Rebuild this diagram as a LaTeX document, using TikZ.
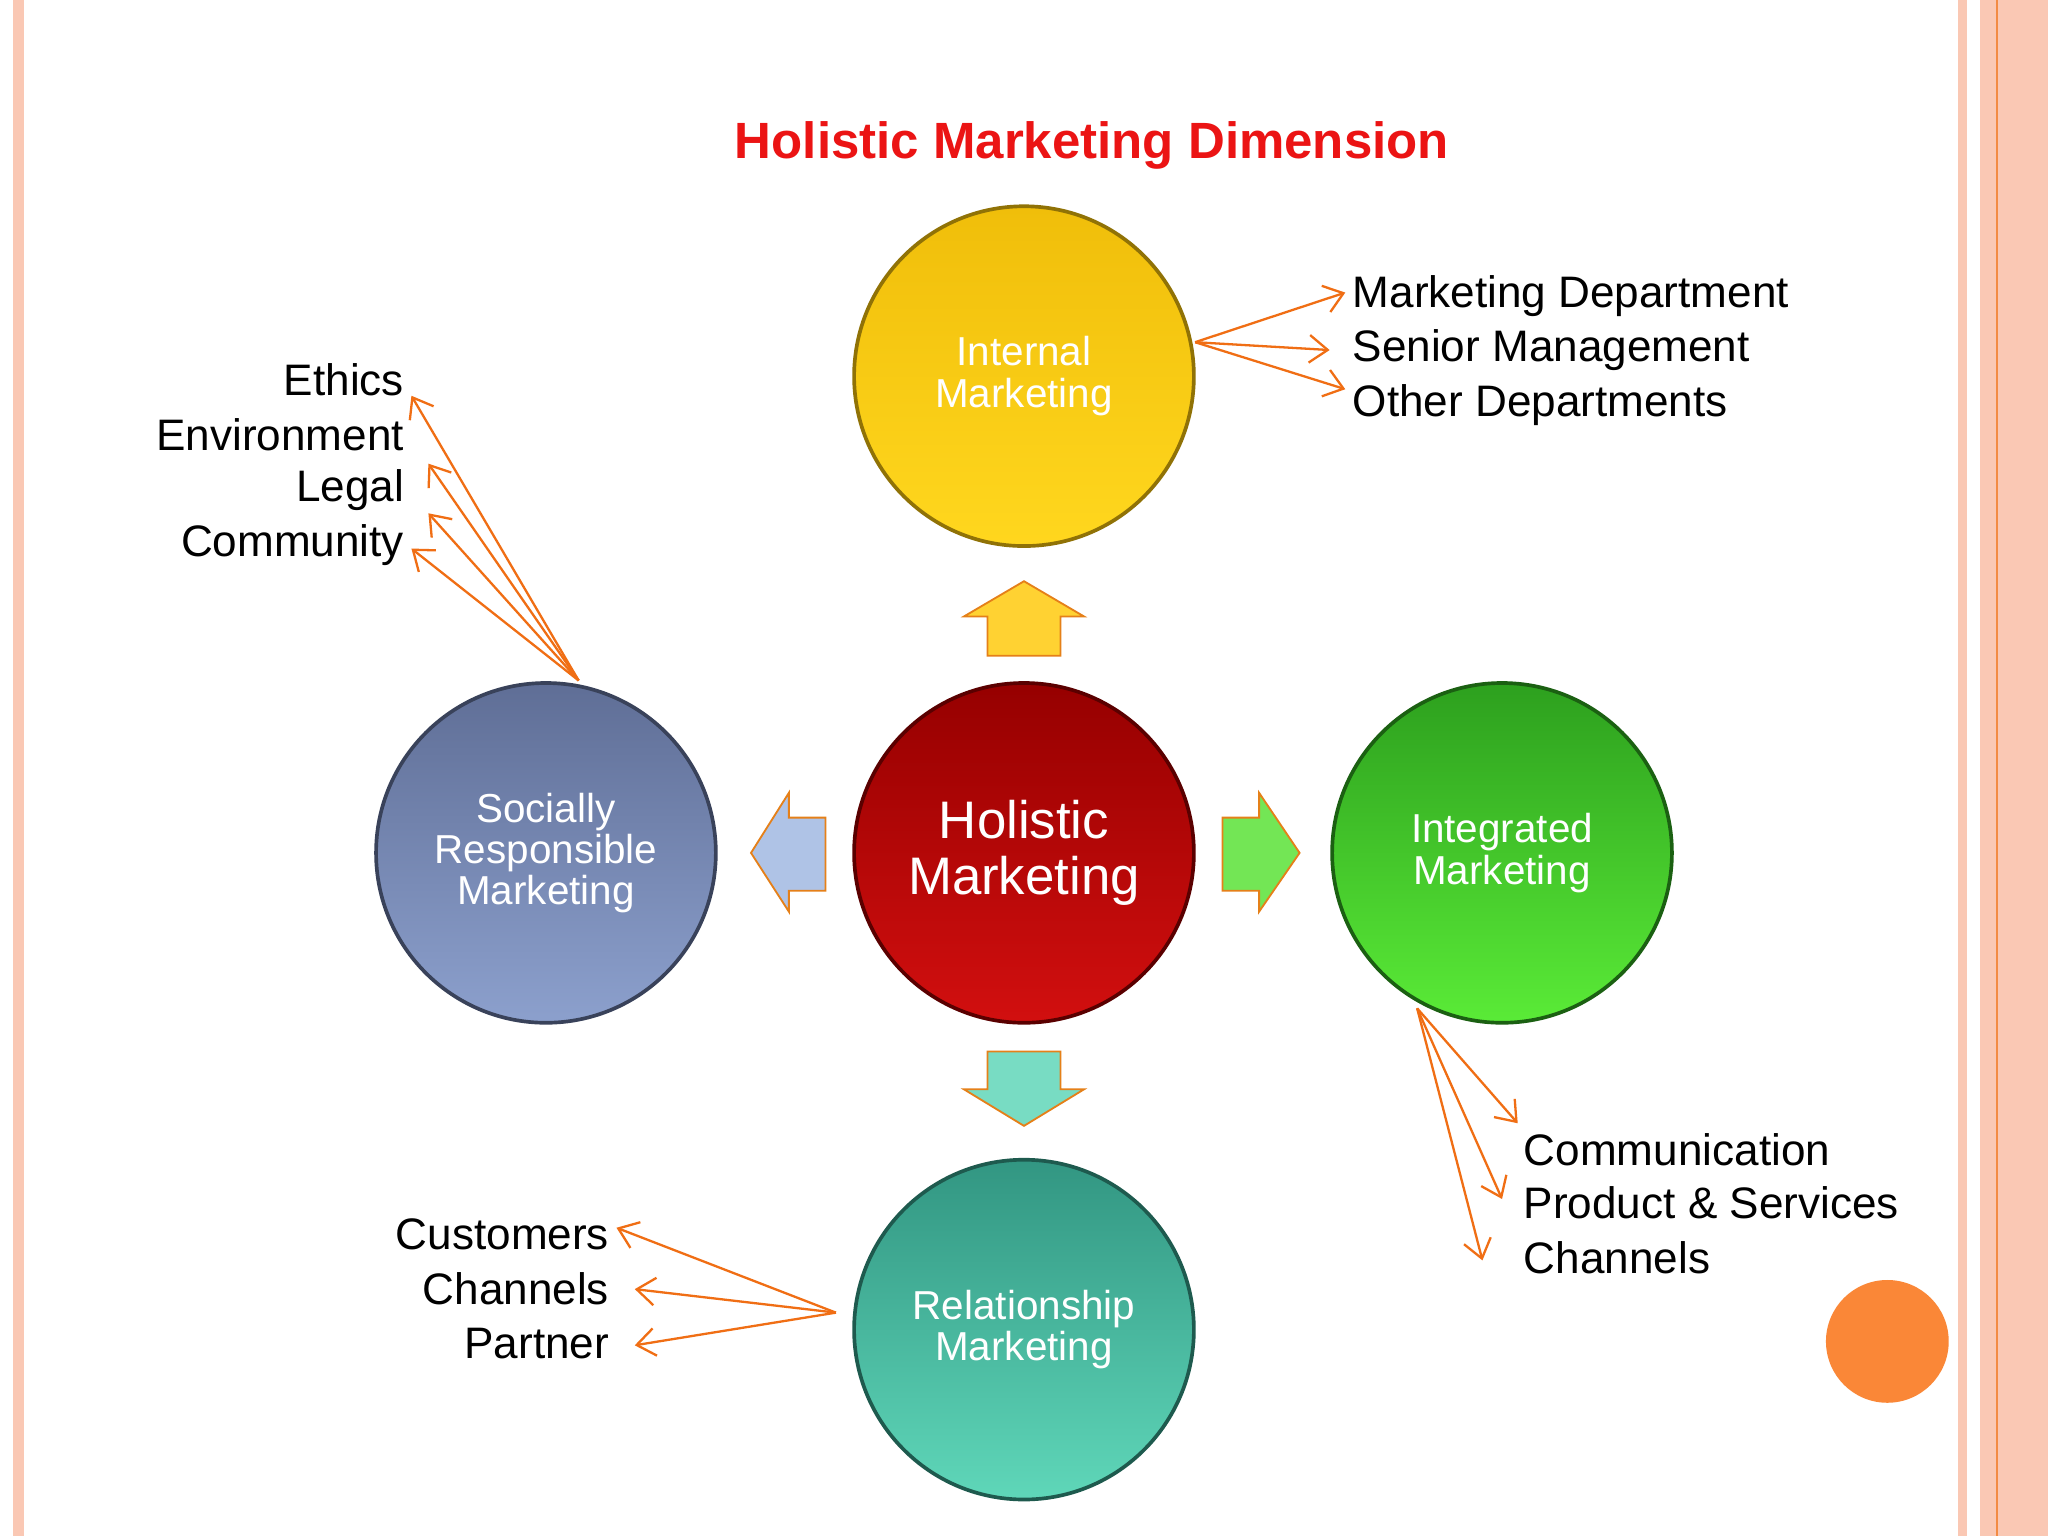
\documentclass[tikz,border=0pt]{standalone}
\usepackage{fontspec}
\setmainfont{Liberation Sans}
\usetikzlibrary{arrows.meta}
\definecolor{orng}{RGB}{240,110,20}
\definecolor{pinkb}{RGB}{250,200,180}
\definecolor{ttl}{RGB}{235,20,20}
\definecolor{cy}{RGB}{240,190,10}
\definecolor{cyb}{RGB}{255,215,30}
\definecolor{cr}{RGB}{150,0,0}
\definecolor{crb}{RGB}{210,15,15}
\definecolor{cb}{RGB}{95,110,150}
\definecolor{cbb}{RGB}{140,160,205}
\definecolor{cg}{RGB}{45,160,30}
\definecolor{cgb}{RGB}{90,235,55}
\definecolor{ct}{RGB}{50,150,130}
\definecolor{ctb}{RGB}{95,215,185}
\definecolor{ay}{RGB}{255,210,50}
\definecolor{ab}{RGB}{175,195,230}
\definecolor{ag}{RGB}{115,230,85}
\definecolor{at}{RGB}{120,220,195}
\definecolor{dot}{RGB}{250,135,55}
\tikzset{
  ball/.style 2 args={circle,minimum size=2.6cm,inner sep=0pt,align=center,text=white,font=\fontsize{8.8}{9}\selectfont,draw=#1!60!black,line width=0.8pt,top color=#1,bottom color=#2},
  lbl/.style={font=\fontsize{9.6}{10}\selectfont,inner sep=0pt},
  con/.style={draw=orng,line width=0.5pt,-{Straight Barb[length=4pt,width=6pt]}},
  blk/.style={draw=orange!60!brown,line width=0.4pt}
}
\begin{document}
\begin{tikzpicture}[x=0.01cm,y=-0.01cm]
\useasboundingbox (0,0) rectangle (1568,1176);
\fill[white] (0,0) rectangle (1568,1176);
\fill[pinkb] (10,0) rectangle (18,1176);
\fill[pinkb] (1499,0) rectangle (1506,1176);
\fill[pinkb] (1516,0) rectangle (1568,1176);
\draw[orng!80,line width=0.6pt] (1529,0) -- (1529,1176);
\node[font=\fontsize{11.1}{12}\selectfont\bfseries,text=ttl] (title) at (836,111) {Holistic Marketing Dimension};
\node[ball={cy}{cyb}] (int) at (784,288) {Internal\\Marketing};
\node[ball={cr}{crb},font=\fontsize{11.5}{12}\selectfont] (hol) at (784,653) {Holistic\\Marketing};
\node[ball={cb}{cbb}] (soc) at (418,653) {Socially\\Responsible\\Marketing};
\node[ball={cg}{cgb}] (itg) at (1150,653) {Integrated\\Marketing};
\node[ball={ct}{ctb}] (rel) at (784,1018) {Relationship\\Marketing};
\filldraw[blk,fill=ay] (738,472) -- (784,445) -- (830,472) -- (812,472) -- (812,502) -- (756,502) -- (756,472) -- cycle;
\filldraw[blk,fill=ab] (575,653) -- (604,607) -- (604,626) -- (632,626) -- (632,682) -- (604,682) -- (604,698) -- cycle;
\filldraw[blk,fill=ag] (995,653) -- (964,607) -- (964,626) -- (936,626) -- (936,682) -- (964,682) -- (964,698) -- cycle;
\filldraw[blk,fill=at] (738,834) -- (784,862) -- (830,834) -- (812,834) -- (812,805) -- (756,805) -- (756,834) -- cycle;
\node[lbl,anchor=west] (t1) at (1035,227) {Marketing Department};
\node[lbl,anchor=west] (t2) at (1035,268) {Senior Management};
\node[lbl,anchor=west] (t3) at (1035,310) {Other Departments};
\node[lbl,anchor=east] (s1) at (310,291) {Ethics};
\node[lbl,anchor=east] (s2) at (310,333) {Environment};
\node[lbl,anchor=east] (s3) at (310,375) {Legal};
\node[lbl,anchor=east] (s4) at (310,417) {Community};
\node[lbl,anchor=west] (g1) at (1166,880) {Communication};
\node[lbl,anchor=west] (g2) at (1166,921) {Product \& Services};
\node[lbl,anchor=west] (g3) at (1166,963) {Channels};
\node[lbl,anchor=east] (r1) at (467,945) {Customers};
\node[lbl,anchor=east] (r2) at (467,987) {Channels};
\node[lbl,anchor=east] (r3) at (467,1029) {Partner};
\coordinate (ia) at (915,262);
\coordinate (sa) at (443,521);
\coordinate (ga) at (1085,772);
\coordinate (ra) at (640,1005);
\coordinate (t1e) at (1030,224); \coordinate (t2e) at (1018,268); \coordinate (t3e) at (1030,298);
\coordinate (s1e) at (315,303); \coordinate (s2e) at (328,355); \coordinate (s3e) at (328,393); \coordinate (s4e) at (315,420);
\coordinate (g1e) at (1162,860); \coordinate (g2e) at (1150,918); \coordinate (g3e) at (1135,965);
\coordinate (r1e) at (472,940); \coordinate (r2e) at (486,987); \coordinate (r3e) at (486,1030);
\foreach \e in {t1e,t2e,t3e} \draw[con] (ia) -- (\e);
\foreach \e in {s1e,s2e,s3e,s4e} \draw[con] (sa) -- (\e);
\foreach \e in {g1e,g2e,g3e} \draw[con] (ga) -- (\e);
\foreach \e in {r1e,r2e,r3e} \draw[con] (ra) -- (\e);
\fill[dot] (1445,1027) circle (47);
\end{tikzpicture}
\end{document}
